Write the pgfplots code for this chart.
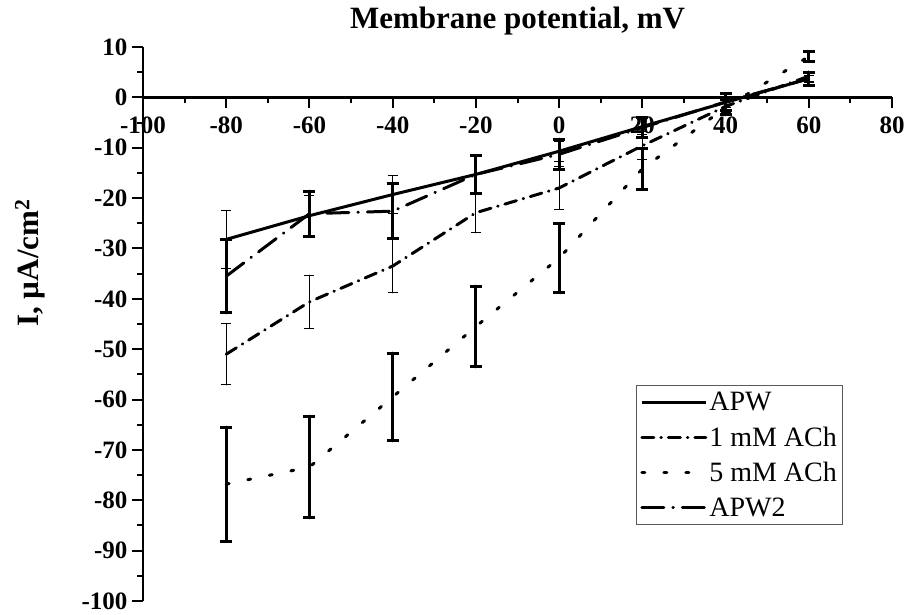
\documentclass[border=0pt]{standalone}
\usepackage{pgfplots}
\pgfplotsset{compat=1.18}
\usepackage{fontspec}
\setmainfont{Liberation Serif}
\begin{document}
\begin{tikzpicture}
\begin{axis}[
  scale only axis,
  width=749pt, height=554pt,
  xmin=-100, xmax=80, ymin=-100, ymax=10,
  axis x line=middle, axis y line=left,
  axis line style={-, line width=2.5pt},
  hide obscured x ticks=false, hide obscured y ticks=false,
  xtick={-100,-80,...,80}, ytick={-100,-90,...,10},
  minor x tick num=1, minor y tick num=1,
  xtick align=outside, ytick align=outside,
  major tick length=11pt, minor tick length=6pt,
  every tick/.style={black, line width=2pt},
  /pgf/number format/assume math mode=true,
  tick label style={font=\bfseries\fontsize{25}{25}\selectfont},
  xticklabel style={yshift=-5pt},
  yticklabel style={xshift=-1pt},
  title={Membrane potential, mV},
  title style={at={(axis description cs:0.5,1)}, anchor=base, yshift=12pt, font=\bfseries\fontsize{31}{31}\selectfont},
  ylabel={I, \textmu A/cm$^{\mathbf{2}}$},
  ylabel style={at={(axis description cs:-0.151,0.61)}, anchor=center, font=\bfseries\fontsize{31}{31}\selectfont},
  legend style={at={(axis description cs:0.658,0.39)}, anchor=north west, draw=gray!70!black, line width=1pt,
    font=\fontsize{28}{28}\selectfont, row sep=10.5pt, inner xsep=4pt, inner ysep=5pt},
  legend cell align=left,
  legend image code/.code={\draw[#1] (0pt,0pt) -- (64pt,0pt);},
  clip=false,
]
\coordinate (bl) at (axis cs:-100,-100);
% APW
\addplot[black, line width=3pt, error bars/.cd, y dir=both, y explicit,
  error bar style={line width=1pt, solid}, error mark options={rotate=90, mark size=5pt, line width=1pt, solid}]
 coordinates {(-80,-28.2) +- (0,5.7) (-60,-23.5) +- (0,4.0) (-40,-19.3) +- (0,3.7) (-20,-15.3) +- (0,3.5)
  (0,-10.7) +- (0,2.0) (20,-5.8) +- (0,1.5) (40,-1.0) +- (0,1.0) (60,3.7) +- (0,0.7)};
\addlegendentry{APW}
% 1 mM ACh
\addplot[black, line width=3pt, line cap=round, dash pattern=on 12pt off 7pt on 0.5pt off 7pt,
  error bars/.cd, y dir=both, y explicit,
  error bar style={line width=1pt, solid}, error mark options={rotate=90, mark size=5pt, line width=1pt, solid}]
 coordinates {(-80,-51.0) +- (0,6.1) (-60,-40.6) +- (0,5.3) (-40,-33.5) +- (0,5.3) (-20,-22.9) +- (0,4.0)
  (0,-18.0) +- (0,4.2) (20,-9.6) +- (0,2.8) (40,-1.8) +- (0,1.2) (60,4.2) +- (0,1.0)};
\addlegendentry{1 mM ACh}
% 5 mM ACh
\addplot[black, line width=3pt, line cap=round, dash pattern=on 3pt off 19pt,
  error bars/.cd, y dir=both, y explicit,
  error bar style={line width=3pt, solid}, error mark options={rotate=90, mark size=6pt, line width=3pt, solid}]
 coordinates {(-80,-76.8) +- (0,11.3) (-60,-73.4) +- (0,10.1) (-40,-59.5) +- (0,8.7) (-20,-45.5) +- (0,8.0)
  (0,-31.9) +- (0,6.8) (20,-14.2) +- (0,4.1) (40,-2.0) +- (0,1.5) (60,8.1) +- (0,1.0)};
\addlegendentry{5 mM ACh}
% APW2
\addplot[black, line width=3pt, line cap=round, dash pattern=on 22pt off 9pt on 0.5pt off 9pt,
  error bars/.cd, y dir=both, y explicit,
  error bar style={line width=3pt, solid}, error mark options={rotate=90, mark size=6pt, line width=3pt, solid}]
 coordinates {(-80,-35.5) +- (0,7.3) (-60,-23.1) +- (0,4.5) (-40,-22.6) +- (0,5.4) (-20,-15.3) +- (0,3.7)
  (0,-11.3) +- (0,3.0) (20,-6.0) +- (0,2.0) (40,-0.9) +- (0,1.7) (60,3.7) +- (0,1.3)};
\addlegendentry{APW2}
\end{axis}
\pgfresetboundingbox
\path (bl) ++(-143pt,-14pt) rectangle ++(907pt,615pt);
\end{tikzpicture}
\end{document}
